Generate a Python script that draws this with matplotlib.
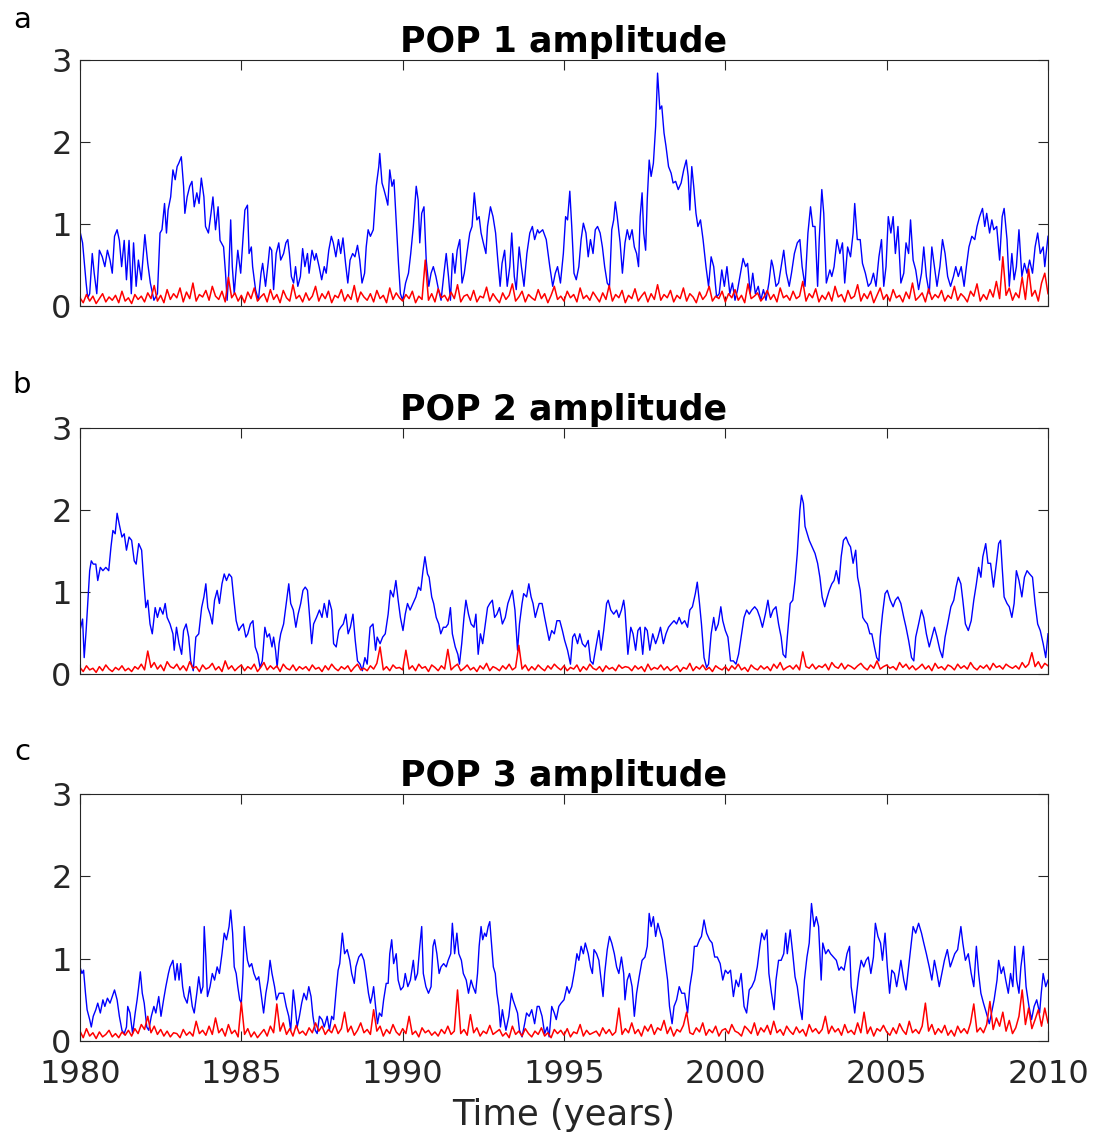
import numpy as np
import matplotlib
matplotlib.use("Agg")
import matplotlib.pyplot as plt

# ---- data (years since 1980, amplitude) ----
pop1_blue_t = [
    0.00, 0.08, 0.19, 0.24, 0.30, 0.38, 0.44, 0.52, 0.60, 0.69,
    0.77, 0.85, 0.93, 1.00, 1.07, 1.15, 1.22, 1.29, 1.37, 1.44,
    1.52, 1.59, 1.66, 1.74, 1.81, 1.90, 2.01, 2.10, 2.18, 2.29,
    2.40, 2.48, 2.54, 2.62, 2.68, 2.73, 2.81, 2.88, 2.95, 3.01,
    3.06, 3.14, 3.21, 3.25, 3.32, 3.40, 3.47, 3.54, 3.62, 3.69,
    3.76, 3.84, 3.89, 3.98, 4.06, 4.12, 4.20, 4.28, 4.34, 4.45,
    4.51, 4.56, 4.61, 4.67, 4.72, 4.78, 4.83, 4.89, 4.98, 5.11,
    5.19, 5.24, 5.31, 5.35, 5.44, 5.53, 5.61, 5.66, 5.75, 5.83,
    5.88, 5.94, 6.00, 6.08, 6.16, 6.22, 6.31, 6.38, 6.44, 6.49,
    6.55, 6.62, 6.68, 6.75, 6.83, 6.90, 6.97, 7.05, 7.10, 7.19,
    7.27, 7.32, 7.41, 7.49, 7.57, 7.63, 7.71, 7.79, 7.85, 7.93,
    8.01, 8.08, 8.15, 8.23, 8.30, 8.37, 8.45, 8.52, 8.60, 8.67,
    8.74, 8.82, 8.87, 8.93, 9.00, 9.09, 9.18, 9.26, 9.29, 9.36,
    9.42, 9.48, 9.54, 9.60, 9.67, 9.73, 9.81, 9.87, 9.93, 10.00,
    10.09, 10.18, 10.25, 10.33, 10.42, 10.48, 10.53, 10.59, 10.66, 10.73,
    10.81, 10.88, 10.95, 11.03, 11.11, 11.19, 11.28, 11.35, 11.42, 11.48,
    11.55, 11.62, 11.69, 11.77, 11.84, 11.91, 11.99, 12.08, 12.15, 12.22,
    12.30, 12.37, 12.43, 12.50, 12.58, 12.63, 12.72, 12.80, 12.88, 12.94,
    13.02, 13.08, 13.16, 13.24, 13.32, 13.38, 13.46, 13.52, 13.61, 13.68,
    13.76, 13.85, 13.94, 14.02, 14.09, 14.18,
    14.23, 14.34, 14.45, 14.56, 14.65, 14.73, 14.80, 14.89, 14.98, 15.05,
    15.11, 15.18, 15.24, 15.31, 15.38, 15.46, 15.53, 15.60, 15.68, 15.75,
    15.82, 15.90, 15.97, 16.04, 16.12, 16.19, 16.26, 16.34, 16.41, 16.48,
    16.54, 16.59, 16.65, 16.74, 16.81, 16.89, 16.96, 17.03, 17.11, 17.18,
    17.25, 17.31, 17.36, 17.42, 17.47, 17.53, 17.58, 17.64, 17.70, 17.77,
    17.84, 17.90, 17.97, 18.03, 18.10, 18.16, 18.24, 18.32, 18.38, 18.46,
    18.54, 18.63, 18.71, 18.79, 18.85, 18.90, 18.96, 19.02, 19.09, 19.15,
    19.23, 19.31, 19.40, 19.48, 19.56, 19.64, 19.73, 19.81, 19.89, 19.97,
    20.05, 20.14, 20.22, 20.30, 20.38, 20.47, 20.55, 20.63, 20.69, 20.77,
    20.85, 20.93, 21.02, 21.10, 21.18, 21.26, 21.35, 21.43, 21.48, 21.57,
    21.65, 21.73, 21.81, 21.89, 21.98, 22.05, 22.14, 22.23, 22.31, 22.38,
    22.47, 22.56, 22.64, 22.71, 22.78, 22.86, 22.91, 22.99, 23.05, 23.13,
    23.24, 23.30, 23.37, 23.46, 23.55, 23.63, 23.70, 23.79, 23.88, 23.96,
    24.01, 24.09, 24.18, 24.25, 24.34, 24.43, 24.51, 24.59, 24.67, 24.76,
    24.84, 24.91, 24.98, 25.05, 25.13, 25.20, 25.27, 25.35, 25.44, 25.53,
    25.60, 25.68, 25.74, 25.82, 25.90, 25.99, 26.08, 26.15, 26.23, 26.32,
    26.40, 26.48, 26.56, 26.65, 26.73, 26.81, 26.89, 26.98, 27.07, 27.14,
    27.22, 27.31, 27.40, 27.47, 27.55, 27.64, 27.73, 27.80, 27.88, 27.97,
    28.04, 28.10, 28.19, 28.26, 28.32, 28.41, 28.50, 28.58, 28.64, 28.73,
    28.80, 28.88, 28.95, 29.02, 29.10, 29.19, 29.27, 29.35, 29.43, 29.52,
    29.60, 29.68, 29.76, 29.85, 29.90, 30.00,
]
pop1_blue_v = [
    0.91, 0.77, 0.28, 0.10, 0.15, 0.64, 0.40, 0.15, 0.68, 0.60,
    0.48, 0.68, 0.56, 0.40, 0.85, 0.93, 0.80, 0.48, 0.80, 0.32,
    0.80, 0.15, 0.77, 0.24, 0.56, 0.32, 0.87, 0.52, 0.28, 0.07,
    0.15, 0.89, 0.93, 1.25, 0.89, 1.17, 1.33, 1.66, 1.54, 1.70,
    1.74, 1.82, 1.46, 1.13, 1.33, 1.46, 1.52, 1.21, 1.38, 1.25,
    1.56, 1.33, 0.97, 0.89, 1.13, 1.33, 0.93, 1.21, 0.80, 0.72,
    0.40, 0.07, 0.40, 1.05, 0.48, 0.15, 0.40, 0.68, 0.40, 1.17,
    1.23, 0.64, 0.72, 0.48, 0.20, 0.07, 0.40, 0.52, 0.24, 0.52,
    0.72, 0.68, 0.20, 0.64, 0.77, 0.56, 0.64, 0.77, 0.81, 0.64,
    0.36, 0.28, 0.48, 0.24, 0.36, 0.70, 0.48, 0.64, 0.40, 0.68,
    0.56, 0.64, 0.48, 0.32, 0.48, 0.40, 0.68, 0.85, 0.77, 0.60,
    0.81, 0.64, 0.83, 0.52, 0.28, 0.56, 0.64, 0.60, 0.74, 0.56,
    0.28, 0.40, 0.72, 0.93, 0.85, 0.93, 1.46, 1.70, 1.86, 1.50,
    1.42, 1.33, 1.23, 1.66, 1.46, 1.54, 0.97, 0.52, 0.15, 0.07,
    0.28, 0.40, 0.64, 0.97, 1.46, 1.29, 0.77, 1.13, 1.21, 0.56,
    0.24, 0.40, 0.48, 0.36, 0.20, 0.07, 0.40, 0.64, 0.36, 0.07,
    0.64, 0.40, 0.68, 0.81, 0.28, 0.40, 0.64, 0.89, 0.97, 1.38,
    1.05, 1.09, 0.89, 0.77, 0.64, 0.97, 1.21, 1.09, 0.89, 0.60,
    0.24, 0.52, 0.68, 0.24, 0.48, 0.89, 0.36, 0.20, 0.72, 0.48,
    0.24, 0.64, 0.89, 0.97, 0.81, 0.93,
    0.89, 0.93, 0.81, 0.48, 0.24, 0.40, 0.48, 0.28, 0.64, 1.09,
    1.05, 1.40, 0.97, 0.40, 0.32, 0.48, 0.81, 1.01, 0.89, 0.60,
    0.81, 0.64, 0.93, 0.97, 0.89, 0.72, 0.48, 0.28, 0.24, 0.93,
    1.05, 1.27, 1.09, 0.77, 0.40, 0.77, 0.93, 0.81, 0.93, 0.72,
    0.64, 0.48, 1.09, 1.38, 0.89, 0.68, 1.30, 1.78, 1.58, 1.74,
    2.19, 2.84, 2.40, 2.44, 2.11, 1.95, 1.70, 1.62, 1.50, 1.52,
    1.42, 1.50, 1.66, 1.78, 1.58, 1.17, 1.70, 1.46, 1.13, 0.97,
    1.05, 0.81, 0.48, 0.24, 0.60, 0.48, 0.11, 0.15, 0.44, 0.24,
    0.48, 0.15, 0.28, 0.07, 0.20, 0.40, 0.58, 0.48, 0.52, 0.15,
    0.40, 0.15, 0.24, 0.07, 0.20, 0.07, 0.28, 0.56, 0.48, 0.24,
    0.28, 0.48, 0.68, 0.40, 0.24, 0.40, 0.64, 0.77, 0.81, 0.48,
    0.24, 0.89, 1.21, 0.97, 0.97, 0.24, 0.81, 1.42, 1.13, 0.28,
    0.44, 0.36, 0.48, 0.81, 0.64, 0.77, 0.28, 0.72, 0.60, 0.89,
    1.25, 0.81, 0.81, 0.52, 0.40, 0.24, 0.28, 0.40, 0.24, 0.60,
    0.81, 0.24, 0.48, 1.09, 0.89, 1.09, 0.64, 0.97, 0.28, 0.40,
    0.77, 0.64, 1.05, 0.56, 0.44, 0.20, 0.40, 0.72, 0.36, 0.15,
    0.72, 0.48, 0.24, 0.48, 0.81, 0.64, 0.36, 0.24, 0.36, 0.48,
    0.36, 0.48, 0.24, 0.48, 0.72, 0.85, 0.81, 0.97, 1.09, 1.19,
    0.97, 1.13, 0.89, 1.05, 0.93, 0.97, 0.56, 1.09, 1.19, 0.81,
    0.24, 0.64, 0.32, 0.48, 0.93, 0.36, 0.52, 0.40, 0.56, 0.40,
    0.72, 0.89, 0.64, 0.72, 0.48, 0.85,
]

pop2_blue_t = [
    0.00, 0.08, 0.13, 0.19, 0.24, 0.30, 0.35, 0.41, 0.49, 0.55,
    0.63, 0.71, 0.80, 0.89, 0.96, 1.02, 1.09, 1.15, 1.22, 1.30,
    1.37, 1.44, 1.52, 1.60, 1.68, 1.74, 1.82, 1.91, 1.96, 2.04,
    2.10, 2.17, 2.24, 2.33, 2.40, 2.48, 2.57, 2.64, 2.70, 2.79,
    2.88, 2.92, 2.99, 3.07, 3.15, 3.21, 3.29, 3.37, 3.43, 3.51,
    3.59, 3.68, 3.77, 3.84, 3.90, 3.96, 4.03, 4.10, 4.17, 4.25,
    4.32, 4.40, 4.47, 4.54, 4.62, 4.70, 4.76, 4.84, 4.92, 4.98,
    5.06, 5.14, 5.20, 5.28, 5.36, 5.43, 5.51, 5.58, 5.65, 5.73,
    5.80, 5.87, 5.95, 6.00, 6.06, 6.11, 6.17, 6.22, 6.31, 6.39,
    6.47, 6.53, 6.61, 6.69, 6.76, 6.84, 6.91, 6.98, 7.05, 7.11,
    7.18, 7.24, 7.33, 7.42, 7.50, 7.57, 7.66, 7.72, 7.80, 7.86,
    7.94, 8.02, 8.08, 8.16, 8.24, 8.31, 8.38, 8.46, 8.53, 8.60,
    8.68, 8.75, 8.83, 8.90, 8.99, 9.08, 9.16, 9.21, 9.30, 9.38,
    9.46, 9.55, 9.62, 9.71, 9.79, 9.86, 9.93, 10.01, 10.08, 10.15,
    10.23, 10.32, 10.41, 10.49, 10.56, 10.63, 10.69, 10.77, 10.82, 10.90,
    10.96, 11.04, 11.12, 11.18, 11.26, 11.34, 11.41, 11.48, 11.54, 11.63,
    11.71, 11.76, 11.83, 11.90, 11.96, 12.04, 12.12, 12.21, 12.27, 12.34,
    12.41, 12.48, 12.56, 12.63, 12.70, 12.78, 12.85, 12.92, 13.00, 13.09,
    13.18, 13.26, 13.33, 13.40, 13.48, 13.56, 13.62, 13.70, 13.75, 13.84,
    13.91, 13.98, 14.04, 14.11, 14.17,
    14.23, 14.32, 14.40, 14.48, 14.54, 14.62, 14.70, 14.78, 14.87, 14.95,
    15.02, 15.11, 15.20, 15.27, 15.33, 15.42, 15.49, 15.57, 15.66, 15.75,
    15.82, 15.90, 15.99, 16.08, 16.15, 16.23, 16.32, 16.37, 16.45, 16.54,
    16.63, 16.70, 16.78, 16.85, 16.89, 16.98, 17.07, 17.14, 17.22, 17.29,
    17.36, 17.44, 17.51, 17.58, 17.66, 17.75, 17.84, 17.91, 17.99, 18.08,
    18.16, 18.24, 18.32, 18.41, 18.49, 18.57, 18.65, 18.74, 18.83, 18.90,
    18.98, 19.07, 19.13, 19.20, 19.26, 19.34, 19.42, 19.48, 19.56, 19.64,
    19.70, 19.78, 19.86, 19.92, 20.00, 20.08, 20.16, 20.25, 20.33, 20.41,
    20.49, 20.58, 20.66, 20.74, 20.82, 20.91, 20.99, 21.07, 21.15, 21.24,
    21.32, 21.40, 21.48, 21.57, 21.65, 21.73, 21.79, 21.87, 21.92, 22.01,
    22.09, 22.16, 22.23, 22.31, 22.36, 22.42, 22.47, 22.54, 22.60, 22.69,
    22.78, 22.86, 22.93, 23.00, 23.08, 23.13, 23.22, 23.30, 23.37, 23.44,
    23.52, 23.59, 23.66, 23.74, 23.82, 23.88, 23.96, 24.04, 24.10, 24.18,
    24.26, 24.32, 24.40, 24.48, 24.54, 24.62, 24.69, 24.76, 24.80, 24.87,
    24.95, 25.02, 25.11, 25.20, 25.27, 25.35, 25.44, 25.53, 25.60, 25.68,
    25.77, 25.84, 25.90, 25.99, 26.08, 26.15, 26.23, 26.32, 26.40, 26.48,
    26.56, 26.65, 26.73, 26.81, 26.89, 26.99, 27.08, 27.15, 27.22, 27.30,
    27.36, 27.44, 27.53, 27.62, 27.70, 27.78, 27.85, 27.92, 27.98, 28.07,
    28.14, 28.22, 28.31, 28.40, 28.47, 28.53, 28.58, 28.64, 28.73, 28.80,
    28.88, 28.95, 29.02, 29.10, 29.19, 29.27, 29.35, 29.43, 29.52, 29.60,
    29.68, 29.76, 29.85, 29.93, 30.00,
]
pop2_blue_v = [
    0.53, 0.67, 0.20, 0.53, 0.86, 1.26, 1.38, 1.34, 1.34, 1.14,
    1.30, 1.26, 1.30, 1.26, 1.55, 1.75, 1.71, 1.96, 1.82, 1.67,
    1.71, 1.51, 1.67, 1.63, 1.38, 1.34, 1.59, 1.51, 1.22, 0.81,
    0.90, 0.61, 0.49, 0.81, 0.69, 0.81, 0.73, 0.86, 0.69, 0.61,
    0.49, 0.29, 0.57, 0.37, 0.24, 0.53, 0.61, 0.45, 0.16, 0.04,
    0.45, 0.49, 0.81, 0.94, 1.10, 0.81, 0.73, 0.61, 0.90, 1.02,
    0.86, 1.10, 1.22, 1.14, 1.22, 1.18, 0.94, 0.65, 0.53, 0.57,
    0.61, 0.45, 0.49, 0.61, 0.65, 0.33, 0.24, 0.08, 0.16, 0.57,
    0.45, 0.49, 0.33, 0.45, 0.29, 0.08, 0.37, 0.49, 0.61, 0.86,
    1.10, 0.86, 0.78, 0.57, 0.73, 0.86, 1.02, 1.06, 1.02, 0.73,
    0.37, 0.61, 0.69, 0.78, 0.69, 0.86, 0.69, 0.90, 0.78, 0.37,
    0.33, 0.53, 0.57, 0.61, 0.73, 0.49, 0.57, 0.73, 0.41, 0.16,
    0.12, 0.04, 0.20, 0.12, 0.57, 0.61, 0.29, 0.45, 0.37, 0.45,
    0.49, 0.73, 1.02, 0.94, 1.14, 0.90, 0.69, 0.53, 0.73, 0.86,
    0.78, 0.86, 0.94, 1.06, 1.02, 1.26, 1.43, 1.22, 1.18, 0.94,
    0.86, 0.69, 0.61, 0.49, 0.57, 0.57, 0.61, 0.81, 0.49, 0.33,
    0.24, 0.12, 0.37, 0.69, 0.90, 0.73, 0.61, 0.57, 0.73, 0.24,
    0.49, 0.37, 0.61, 0.81, 0.86, 0.90, 0.69, 0.73, 0.81, 0.61,
    0.69, 0.86, 0.94, 1.02, 0.78, 0.29, 0.61, 0.86, 0.98, 0.94,
    1.10, 0.94, 0.86, 0.69, 0.78,
    0.86, 0.86, 0.69, 0.53, 0.41, 0.53, 0.49, 0.65, 0.65, 0.53,
    0.41, 0.29, 0.12, 0.45, 0.49, 0.37, 0.49, 0.37, 0.33, 0.41,
    0.16, 0.12, 0.33, 0.53, 0.29, 0.53, 0.86, 0.90, 0.78, 0.73,
    0.78, 0.69, 0.78, 0.90, 0.78, 0.24, 0.57, 0.49, 0.29, 0.53,
    0.57, 0.24, 0.57, 0.53, 0.29, 0.49, 0.37, 0.45, 0.57, 0.37,
    0.49, 0.57, 0.61, 0.65, 0.61, 0.69, 0.61, 0.65, 0.57, 0.78,
    0.82, 0.98, 1.12, 0.86, 0.61, 0.20, 0.08, 0.12, 0.49, 0.69,
    0.53, 0.61, 0.82, 0.65, 0.53, 0.45, 0.16, 0.16, 0.12, 0.24,
    0.45, 0.69, 0.78, 0.73, 0.78, 0.82, 0.78, 0.69, 0.57, 0.73,
    0.90, 0.69, 0.78, 0.82, 0.61, 0.45, 0.24, 0.20, 0.45, 0.86,
    0.90, 1.14, 1.47, 2.00, 2.18, 2.08, 1.80, 1.71, 1.63, 1.55,
    1.47, 1.35, 1.18, 0.94, 0.82, 0.90, 1.02, 1.10, 1.14, 1.26,
    1.10, 1.43, 1.63, 1.67, 1.59, 1.55, 1.35, 1.51, 1.18, 1.02,
    0.69, 0.65, 0.61, 0.49, 0.49, 0.33, 0.20, 0.16, 0.45, 0.73,
    0.98, 1.02, 0.90, 0.82, 0.90, 0.94, 0.86, 0.69, 0.57, 0.41,
    0.20, 0.16, 0.45, 0.61, 0.78, 0.69, 0.49, 0.33, 0.45, 0.57,
    0.45, 0.29, 0.20, 0.45, 0.61, 0.82, 0.90, 1.06, 1.18, 1.10,
    0.90, 0.61, 0.53, 0.65, 0.90, 1.10, 1.30, 1.18, 1.43, 1.59,
    1.35, 1.35, 1.06, 1.35, 1.59, 1.63, 1.30, 0.94, 0.86, 0.82,
    0.69, 0.86, 1.26, 1.14, 0.94, 1.18, 1.26, 1.22, 1.18, 0.86,
    0.61, 0.53, 0.37, 0.20, 0.49,
]

pop3_blue_t = [
    0.00, 0.06, 0.11, 0.17, 0.22, 0.30, 0.35, 0.41, 0.49, 0.55,
    0.63, 0.71, 0.77, 0.85, 0.93, 1.00, 1.07, 1.15, 1.22, 1.30,
    1.37, 1.44, 1.48, 1.55, 1.63, 1.71, 1.77, 1.82, 1.87, 1.93,
    1.99, 2.07, 2.13, 2.21, 2.29, 2.35, 2.44, 2.51, 2.59, 2.66,
    2.74, 2.79, 2.88, 2.95, 3.01, 3.07, 3.12, 3.18, 3.23, 3.32,
    3.40, 3.48, 3.54, 3.62, 3.68, 3.75, 3.81, 3.85, 3.90, 3.95,
    4.03, 4.10, 4.17, 4.25, 4.32, 4.40, 4.47, 4.54, 4.62, 4.67,
    4.73, 4.78, 4.84, 4.89, 4.95, 5.00, 5.05, 5.09, 5.14, 5.19,
    5.25, 5.32, 5.39, 5.47, 5.54, 5.61, 5.69, 5.76, 5.83, 5.89,
    5.95, 6.03, 6.09, 6.17, 6.25, 6.31, 6.39, 6.47, 6.53, 6.61,
    6.67, 6.73, 6.80, 6.87, 6.94, 7.02, 7.09, 7.16, 7.22, 7.29,
    7.35, 7.42, 7.50, 7.57, 7.66, 7.73, 7.80, 7.86, 7.94, 8.00,
    8.05, 8.13, 8.20, 8.28, 8.36, 8.42, 8.50, 8.55, 8.64, 8.72,
    8.80, 8.86, 8.94, 9.00, 9.05, 9.10, 9.16, 9.22, 9.28, 9.35,
    9.41, 9.49, 9.55, 9.60, 9.66, 9.72, 9.80, 9.86, 9.94, 10.02,
    10.08, 10.16, 10.24, 10.33, 10.39, 10.46, 10.53, 10.59, 10.64, 10.72,
    10.80, 10.88, 10.94, 10.99, 11.06, 11.13, 11.19, 11.27, 11.35, 11.41,
    11.49, 11.54, 11.61, 11.68, 11.74, 11.82, 11.88, 11.97, 12.04, 12.12,
    12.18, 12.26, 12.32, 12.37, 12.43, 12.48, 12.54, 12.59, 12.65, 12.70,
    12.76, 12.81, 12.87, 12.92, 12.98, 13.03, 13.09, 13.14, 13.20, 13.29,
    13.37, 13.42, 13.49, 13.56, 13.62, 13.70, 13.78, 13.84, 13.92, 14.00,
    14.09, 14.17,
    14.23, 14.32, 14.40, 14.48, 14.54, 14.62, 14.70, 14.76, 14.84, 14.91,
    15.00, 15.09, 15.16, 15.24, 15.33, 15.40, 15.46, 15.53, 15.60, 15.66,
    15.75, 15.82, 15.88, 15.93, 16.01, 16.08, 16.15, 16.21, 16.26, 16.34,
    16.41, 16.48, 16.56, 16.63, 16.70, 16.78, 16.85, 16.89, 16.96, 17.03,
    17.11, 17.18, 17.25, 17.33, 17.42, 17.51, 17.58, 17.64, 17.70, 17.77,
    17.84, 17.91, 17.99, 18.05, 18.13, 18.21, 18.27, 18.35, 18.41, 18.49,
    18.57, 18.65, 18.74, 18.83, 18.90, 18.98, 19.04, 19.12, 19.20, 19.26,
    19.34, 19.42, 19.51, 19.59, 19.67, 19.75, 19.84, 19.92, 20.00, 20.08,
    20.16, 20.25, 20.33, 20.41, 20.49, 20.58, 20.66, 20.74, 20.82, 20.91,
    20.99, 21.07, 21.13, 21.21, 21.29, 21.35, 21.43, 21.51, 21.57, 21.65,
    21.73, 21.81, 21.87, 21.92, 22.01, 22.09, 22.16, 22.23, 22.31, 22.38,
    22.45, 22.53, 22.60, 22.67, 22.75, 22.82, 22.89, 22.97, 23.02, 23.11,
    23.19, 23.26, 23.35, 23.44, 23.52, 23.59, 23.68, 23.77, 23.85, 23.90,
    23.96, 24.01, 24.07, 24.14, 24.21, 24.29, 24.36, 24.43, 24.51, 24.59,
    24.65, 24.73, 24.81, 24.87, 24.95, 25.02, 25.09, 25.16, 25.24, 25.31,
    25.38, 25.44, 25.53, 25.60, 25.68, 25.75, 25.82, 25.90, 25.99, 26.08,
    26.15, 26.23, 26.32, 26.40, 26.48, 26.56, 26.63, 26.71, 26.79, 26.88,
    26.97, 27.04, 27.11, 27.20, 27.30, 27.36, 27.44, 27.53, 27.62, 27.70,
    27.78, 27.85, 27.92, 28.00, 28.09, 28.18, 28.25, 28.33, 28.42, 28.47,
    28.55, 28.62, 28.69, 28.77, 28.84, 28.91, 28.97, 29.03, 29.10, 29.16,
    29.24, 29.32, 29.41, 29.49, 29.57, 29.65, 29.74, 29.79, 29.85, 29.93,
    30.00,
]
pop3_blue_v = [
    0.90, 0.82, 0.86, 0.58, 0.38, 0.26, 0.17, 0.30, 0.38, 0.46,
    0.34, 0.50, 0.42, 0.52, 0.46, 0.54, 0.62, 0.50, 0.30, 0.13,
    0.09, 0.17, 0.42, 0.34, 0.09, 0.34, 0.50, 0.66, 0.84, 0.58,
    0.46, 0.17, 0.13, 0.30, 0.42, 0.34, 0.54, 0.30, 0.50, 0.66,
    0.82, 0.90, 0.98, 0.74, 0.94, 0.74, 0.94, 0.66, 0.54, 0.46,
    0.66, 0.42, 0.34, 0.58, 0.78, 0.58, 0.66, 1.39, 1.02, 0.54,
    0.66, 0.82, 0.74, 0.90, 0.82, 1.06, 1.31, 1.23, 1.39, 1.59,
    1.31, 0.90, 0.82, 0.66, 0.50, 0.46, 0.82, 1.39, 1.15, 0.98,
    0.90, 0.94, 0.82, 0.74, 0.78, 0.58, 0.34, 0.58, 0.74, 0.98,
    0.82, 0.66, 0.50, 0.58, 0.58, 0.58, 0.42, 0.30, 0.13, 0.62,
    0.42, 0.17, 0.30, 0.46, 0.58, 0.50, 0.66, 0.54, 0.30, 0.13,
    0.09, 0.30, 0.26, 0.17, 0.30, 0.13, 0.30, 0.26, 0.62, 0.86,
    0.94, 1.31, 1.06, 1.11, 0.98, 0.82, 0.70, 0.90, 1.02, 1.06,
    0.98, 0.82, 0.58, 0.46, 0.54, 0.66, 0.42, 0.21, 0.34, 0.30,
    0.50, 0.70, 0.70, 1.06, 1.23, 0.94, 1.06, 0.74, 0.62, 0.66,
    0.82, 0.66, 0.74, 0.98, 0.74, 0.82, 1.15, 1.39, 0.82, 0.66,
    0.58, 0.66, 1.15, 1.23, 1.06, 0.82, 0.90, 0.94, 0.90, 0.98,
    1.06, 1.43, 1.06, 1.31, 1.06, 0.98, 0.82, 0.74, 0.58, 0.74,
    0.66, 0.58, 0.82, 1.15, 1.39, 1.23, 1.31, 1.27, 1.39, 1.45,
    1.15, 0.90, 0.82, 0.58, 0.42, 0.17, 0.38, 0.26, 0.13, 0.30,
    0.58, 0.50, 0.42, 0.34, 0.13, 0.05, 0.21, 0.34, 0.30, 0.38,
    0.21, 0.42,
    0.42, 0.30, 0.09, 0.17, 0.05, 0.42, 0.34, 0.26, 0.42, 0.46,
    0.50, 0.66, 0.58, 0.66, 0.86, 1.06, 0.98, 1.15, 1.06, 1.19,
    1.06, 0.90, 0.82, 1.11, 1.06, 0.98, 0.74, 0.54, 0.82, 1.11,
    1.27, 1.19, 1.06, 0.90, 0.82, 1.02, 0.82, 0.50, 0.74, 0.82,
    0.66, 0.30, 0.58, 0.78, 0.98, 1.02, 1.15, 1.55, 1.39, 1.51,
    1.27, 1.43, 1.31, 1.23, 0.98, 0.74, 0.42, 0.21, 0.42, 0.50,
    0.66, 0.58, 0.58, 0.34, 0.66, 0.86, 1.15, 1.15, 1.23, 1.27,
    1.47, 1.31, 1.23, 1.19, 1.02, 1.02, 0.94, 0.74, 0.86, 0.82,
    0.86, 0.54, 0.74, 0.66, 0.82, 0.42, 0.34, 0.62, 0.66, 0.74,
    0.90, 1.15, 1.31, 1.23, 1.35, 0.82, 0.58, 0.38, 0.74, 0.98,
    0.98, 1.06, 1.31, 1.06, 1.35, 1.06, 0.78, 0.66, 0.42, 0.26,
    0.74, 1.02, 1.19, 1.67, 1.39, 1.51, 1.39, 0.74, 1.19, 1.06,
    1.11, 1.06, 1.02, 0.98, 0.86, 0.90, 0.86, 1.06, 1.15, 0.66,
    0.50, 0.34, 0.58, 0.82, 0.98, 0.90, 0.98, 1.02, 0.82, 1.02,
    1.43, 1.27, 1.19, 0.98, 1.31, 0.90, 0.58, 0.86, 0.82, 0.66,
    0.82, 0.98, 0.74, 0.62, 0.90, 1.15, 1.39, 1.31, 1.43, 1.31,
    1.19, 1.06, 0.90, 0.74, 0.98, 0.82, 0.66, 0.82, 0.98, 1.11,
    0.90, 0.98, 1.06, 1.11, 1.39, 1.19, 0.98, 1.06, 0.82, 0.66,
    1.15, 0.82, 0.58, 0.46, 0.34, 0.21, 0.34, 0.50, 0.74, 0.98,
    0.82, 0.90, 0.74, 0.58, 0.82, 0.66, 1.15, 0.74, 0.58, 0.90,
    1.15, 0.66, 0.42, 0.26, 0.42, 0.50, 0.34, 0.58, 0.82, 0.66,
    0.74,
]

# red (noise) series, hundredths, every 0.1 year from 1980.0 to 2010.0
pop1_red = [
    10, 4, 14, 6, 12, 3, 9, 15, 5, 11,
    7, 13, 4, 18, 6, 10, 3, 14, 8, 12,
    5, 16, 9, 25, 6, 13, 4, 20, 8, 15,
    10, 22, 5, 17, 9, 28, 6, 14, 11, 19,
    7, 24, 12, 8, 18, 5, 35, 10, 16, 6,
    13, 4, 17, 9, 22, 6, 11, 15, 5, 20,
    8, 14, 4, 19, 10, 6, 26, 9, 13, 5,
    16, 7, 12, 24, 6, 15, 9, 18, 4, 13,
    10, 20, 6, 14, 8, 25, 5, 17, 11, 7,
    15, 5, 19, 9, 13, 4, 22, 8, 16, 10,
    6, 14, 9, 18, 4, 12, 8, 56, 7, 15,
    5, 21, 10, 13, 6, 17, 9, 26, 5, 12,
    14, 7, 19, 5, 12, 10, 23, 6, 15, 9,
    4, 16, 8, 13, 27, 6, 11, 18, 5, 14,
    10, 7, 20, 9, 15, 4, 13, 24, 8, 12,
    6, 18, 10, 14, 5, 22, 9, 13, 7, 17,
    11, 5, 16, 8, 25, 6, 14, 10, 19, 4,
    13, 9, 21, 6, 12, 17, 5, 15, 8, 26,
    7, 14, 10, 19, 5, 13, 9, 22, 6, 15,
    11, 4, 17, 8, 13, 24, 6, 12, 9, 18,
    5, 15, 10, 20, 7, 13, 4, 27, 9, 12,
    16, 6, 11, 19, 8, 14, 5, 22, 10, 13,
    7, 18, 9, 12, 30, 6, 15, 10, 21, 5,
    13, 8, 17, 6, 24, 11, 14, 5, 19, 9,
    12, 26, 6, 15, 9, 18, 4, 13, 22, 8,
    14, 6, 20, 10, 13, 5, 17, 9, 28, 7,
    11, 16, 5, 21, 8, 14, 10, 19, 6, 13,
    9, 24, 7, 15, 11, 5, 18, 12, 27, 6,
    14, 8, 20, 11, 30, 9, 60, 13, 22, 7,
    16, 10, 35, 8, 45, 12, 19, 6, 28, 40,
    15,
]
pop2_red = [
    8, 3, 10, 5, 7, 2, 9, 4, 11, 6,
    3, 8, 5, 10, 4, 7, 3, 9, 6, 12,
    5, 28, 8, 14, 6, 11, 4, 15, 9, 7,
    12, 5, 10, 4, 15, 7, 9, 3, 11, 6,
    8, 13, 5, 9, 3, 16, 6, 10, 4, 8,
    11, 4, 9, 6, 12, 3, 8, 14, 5, 10,
    6, 10, 3, 12, 7, 5, 11, 4, 9, 6,
    9, 4, 11, 6, 8, 3, 10, 5, 12, 7,
    4, 9, 6, 10, 3, 8, 12, 5, 7, 4,
    10, 6, 13, 33, 5, 9, 4, 11, 7, 8,
    5, 29, 6, 10, 4, 12, 7, 9, 3, 11,
    8, 4, 10, 6, 30, 5, 9, 12, 4, 7,
    11, 5, 8, 3, 10, 6, 13, 4, 9, 7,
    4, 10, 6, 12, 5, 8, 35, 6, 11, 4,
    9, 5, 11, 7, 4, 10, 6, 12, 8, 5,
    10, 4, 8, 6, 11, 3, 9, 5, 12, 7,
    5, 9, 3, 10, 6, 8, 4, 11, 7, 9,
    8, 4, 10, 6, 9, 3, 12, 5, 8, 6,
    11, 5, 9, 4, 7, 10, 3, 8, 6, 13,
    4, 9, 6, 11, 5, 8, 3, 10, 7, 5,
    9, 4, 10, 6, 12, 5, 8, 3, 11, 7,
    5, 10, 6, 9, 4, 12, 7, 14, 5, 8,
    10, 6, 11, 5, 27, 9, 7, 12, 6, 10,
    8, 12, 5, 14, 9, 7, 13, 6, 11, 9,
    6, 10, 13, 8, 5, 11, 7, 16, 6, 9,
    11, 7, 9, 5, 14, 8, 12, 6, 10, 5,
    8, 12, 6, 10, 4, 13, 7, 9, 5, 11,
    9, 5, 12, 7, 10, 6, 14, 8, 5, 10,
    7, 11, 5, 13, 8, 10, 6, 12, 9, 7,
    10, 6, 14, 8, 12, 26, 9, 15, 7, 13,
    10,
]
pop3_red = [
    12, 4, 15, 6, 10, 3, 11, 5, 8, 13,
    5, 9, 4, 11, 7, 13, 6, 15, 9, 20,
    14, 30, 10, 18, 8, 14, 6, 12, 5, 10,
    9, 4, 14, 7, 11, 6, 24, 9, 13, 7,
    18, 8, 28, 10, 15, 6, 20, 9, 13, 5,
    47, 8, 15, 5, 11, 4, 9, 14, 6, 18,
    10, 45, 12, 22, 8, 15, 6, 19, 9, 12,
    7, 16, 10, 22, 12, 18, 8, 14, 10, 20,
    9, 15, 35, 11, 18, 7, 13, 22, 10, 14,
    8, 38, 12, 18, 6, 14, 9, 20, 11, 7,
    15, 9, 30, 8, 12, 5, 16, 10, 13, 7,
    11, 6, 14, 9, 18, 8, 12, 62, 9, 14,
    7, 32, 10, 16, 6, 12, 9, 19, 8, 11,
    14, 6, 10, 4, 18, 8, 12, 6, 15, 9,
    5, 12, 8, 16, 6, 10, 4, 14, 9, 13,
    7, 15, 5, 11, 9, 20, 6, 13, 8, 10,
    12, 6, 16, 9, 14, 7, 11, 40, 8, 15,
    10, 22, 9, 14, 6, 18, 12, 20, 8, 16,
    13, 25, 9, 17, 6, 14, 11, 19, 35, 10,
    8, 16, 11, 22, 7, 14, 10, 18, 6, 13,
    15, 9, 20, 12, 10, 6, 18, 14, 9, 22,
    7, 16, 11, 19, 8, 24, 10, 14, 7, 18,
    12, 8, 17, 10, 14, 6, 20, 11, 15, 9,
    14, 30, 9, 18, 11, 15, 7, 20, 10, 13,
    8, 22, 10, 35, 9, 17, 6, 15, 12, 19,
    11, 7, 16, 9, 21, 13, 8, 24, 10, 14,
    9, 18, 46, 12, 20, 8, 15, 10, 19, 7,
    13, 6, 18, 10, 15, 9, 22, 45, 11, 16,
    10, 20, 48, 14, 28, 18, 35, 12, 25, 9,
    16, 30, 62, 20, 40, 15, 26, 38, 18, 40,
    22,
]

titles = ["POP 1 amplitude", "POP 2 amplitude", "POP 3 amplitude"]
letters = ["a", "b", "c"]
year_ticks = [1980, 1985, 1990, 1995, 2000, 2005, 2010]
amp_ticks = [0, 1, 2, 3]

TXT = "#262626"
plt.rcParams["font.family"] = ["DejaVu Sans"]

fig = plt.figure(figsize=(10.96, 11.40), dpi=100)
left, width = 80 / 1096, 968 / 1096
boxes = [(306, 246), (674, 246), (1041, 247)]
letter_y = [20, 385, 752]

blue = [(pop1_blue_t, pop1_blue_v), (pop2_blue_t, pop2_blue_v), (pop3_blue_t, pop3_blue_v)]
red = [pop1_red, pop2_red, pop3_red]

for i in range(3):
    bottom_px, height_px = boxes[i]
    ax = fig.add_axes([left, 1 - bottom_px / 1140, width, height_px / 1140])
    t, v = blue[i]
    ax.plot(1980 + np.array(t), v, color=(0, 0, 1), lw=1.0)
    r = np.array(red[i]) / 100.0
    ax.plot(1980 + 0.1 * np.arange(len(r)), r, color=(1, 0, 0), lw=1.1)

    ax.set_xlim(1980, 2010)
    ax.set_ylim(0, 3)
    ax.set_xticks(year_ticks)
    ax.set_yticks(amp_ticks)
    ax.tick_params(direction="in", length=7, width=0.8, colors=TXT,
                   labelsize=23, top=True, right=True)
    ax.tick_params(axis="y", pad=6)
    ax.tick_params(axis="x", pad=13)
    for s in ax.spines.values():
        s.set_color(TXT)
        s.set_linewidth(0.8)
    if i < 2:
        ax.set_xticklabels([])
    ax.set_title(titles[i], fontsize=25, fontweight="bold", pad=6)
    fig.text(22 / 1096, 1 - letter_y[i] / 1140, letters[i], fontsize=21,
             ha="center", va="center", color="black")

fig.text(564 / 1096, 1 - 1115 / 1140, "Time (years)", fontsize=25.5,
         color=TXT, ha="center", va="center")

fig.savefig("out.png", dpi=100)
